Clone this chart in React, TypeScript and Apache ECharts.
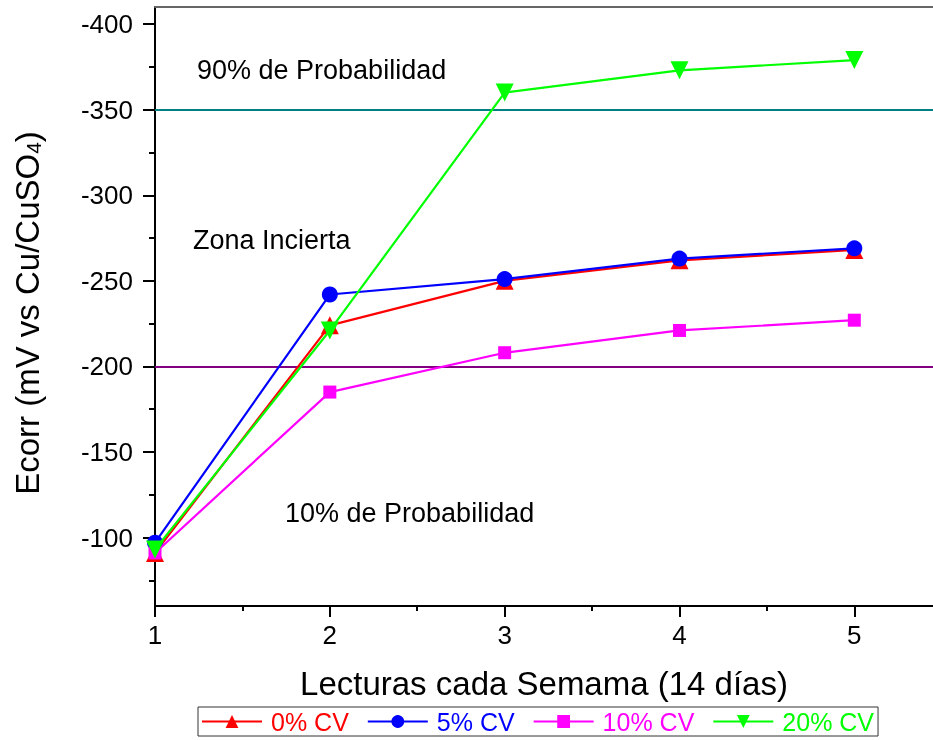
import React, { useEffect, useRef } from "react";
import * as echarts from "echarts";

const weeks = [1, 2, 3, 4, 5];
const cv0 = [-91, -224, -250, -262, -268];
const cv5 = [-97, -242, -251, -263, -269];
const cv10 = [-91, -185, -208, -221, -227];
const cv20 = [-93, -221, -360, -373, -379];
const seriesNames = ["0% CV", "5% CV", "10% CV", "20% CV"];
const seriesColors = ["#ff0000", "#0000ff", "#ff00ff", "#00ff00"];
const xTicks = [1, 2, 3, 4, 5];
const majorY = [-400, -350, -300, -250, -200, -150, -100];
const minorY = [-375, -325, -275, -225, -175, -125, -75];
const limit90 = -350;
const limit10 = -200;

const FONT = "Liberation Sans, Arial, sans-serif";

export default function App() {
  const ref = useRef<HTMLDivElement>(null);
  useEffect(() => {
    if (!ref.current) return;
    const chart = echarts.init(ref.current, undefined, { renderer: "svg" });
    const pair = (ys: number[]) => weeks.map((w, i) => [w, ys[i]]);
    const mk = (idx: number, ys: number[], symbol: string, size: number, rotate = 0) => ({
      name: seriesNames[idx],
      type: "line",
      data: pair(ys),
      symbol,
      symbolSize: size,
      symbolRotate: rotate,
      showSymbol: true,
      lineStyle: { color: seriesColors[idx], width: 2.2 },
      itemStyle: { color: seriesColors[idx] },
      z: 10 + idx,
    });
    const lines: any[] = [
      {
        name: "lim90",
        type: "line",
        data: [],
        markLine: {
          silent: true,
          symbol: "none",
          label: { show: false },
          lineStyle: { color: "#008080", width: 2, type: "solid" },
          data: [{ yAxis: limit90 }],
        },
      },
      {
        name: "lim10",
        type: "line",
        data: [],
        markLine: {
          silent: true,
          symbol: "none",
          label: { show: false },
          lineStyle: { color: "#800080", width: 2, type: "solid" },
          data: [{ yAxis: limit10 }],
        },
      },
    ];
    chart.setOption({
      animation: false,
      textStyle: { fontFamily: FONT },
      grid: { left: 155, top: 7, right: 0, bottom: 134, containLabel: false },
      xAxis: [
        {
          type: "value",
          min: 1,
          max: 5.45,
          interval: 1,
          position: "bottom",
          axisLine: { show: true, lineStyle: { color: "#000", width: 2 } },
          axisTick: { show: true, length: 11, customValues: xTicks, lineStyle: { color: "#000", width: 2 } },
          minorTick: { show: true, splitNumber: 2, length: 5, lineStyle: { color: "#000", width: 2 } },
          splitLine: { show: false },
          axisLabel: { color: "#000", fontSize: 26, margin: 16, customValues: xTicks, fontFamily: FONT },
          name: "Lecturas cada Semama (14 días)",
          nameLocation: "middle",
          nameGap: 61,
          nameTextStyle: { color: "#000", fontSize: 33, fontFamily: FONT },
        },
        {
          type: "value",
          min: 1,
          max: 5.45,
          position: "top",
          axisLine: { show: true, lineStyle: { color: "#666", width: 2 } },
          axisTick: { show: false },
          axisLabel: { show: false },
          splitLine: { show: false },
        },
      ],
      yAxis: [
        {
          type: "value",
          min: -410,
          max: -60,
          inverse: true,
          position: "left",
          axisLine: { show: true, lineStyle: { color: "#000", width: 2 } },
          axisTick: { show: true, length: 12, customValues: majorY, lineStyle: { color: "#000", width: 2 } },
          axisLabel: { color: "#000", fontSize: 26, margin: 22, customValues: majorY, fontFamily: FONT },
          splitLine: { show: false },
        },
        {
          type: "value",
          min: -410,
          max: -60,
          inverse: true,
          position: "left",
          axisLine: { show: false },
          axisTick: { show: true, length: 6, customValues: minorY, lineStyle: { color: "#000", width: 2 } },
          axisLabel: { show: false },
          splitLine: { show: false },
        },
      ],
      legend: {
        left: 198,
        top: 707,
        data: seriesNames.map((n, i) => ({ name: n, textStyle: { color: seriesColors[i] } })),
        itemWidth: 60,
        itemHeight: 16,
        itemGap: 18,
        borderColor: "#333",
        borderWidth: 1,
        padding: [2, 4, 2, 3],
        textStyle: { fontSize: 25, fontFamily: FONT, padding: [0, 0, 0, 4] },
      },
      graphic: [
        { type: "text", x: 197, y: 70, style: { text: "90% de Probabilidad", fontSize: 27, fill: "#000", fontFamily: FONT, verticalAlign: "middle" } },
        { type: "text", x: 193, y: 240, style: { text: "Zona Incierta", fontSize: 27, fill: "#000", fontFamily: FONT, verticalAlign: "middle" } },
        { type: "text", x: 285, y: 513, style: { text: "10% de Probabilidad", fontSize: 27, fill: "#000", fontFamily: FONT, verticalAlign: "middle" } },
        {
          type: "text",
          x: 27,
          y: 313,
          rotation: Math.PI / 2,
          style: {
            text: "Ecorr (mV vs Cu/CuSO{sub|4})",
            fontSize: 33,
            fill: "#000",
            fontFamily: FONT,
            align: "center",
            verticalAlign: "middle",
            rich: {
              sub: { fontSize: 21, fill: "#000", fontFamily: FONT, verticalAlign: "bottom", padding: [12, 0, 0, 0] },
            },
          },
        },
      ],
      series: [
        ...lines,
        mk(0, cv0, "triangle", 18),
        mk(1, cv5, "circle", 16),
        mk(2, cv10, "rect", 13),
        mk(3, cv20, "triangle", 18, 180),
      ],
    });
    return () => chart.dispose();
  }, []);
  return <div ref={ref} style={{ position: "fixed", left: 0, top: 0, width: 933, height: 740 }} />;
}
